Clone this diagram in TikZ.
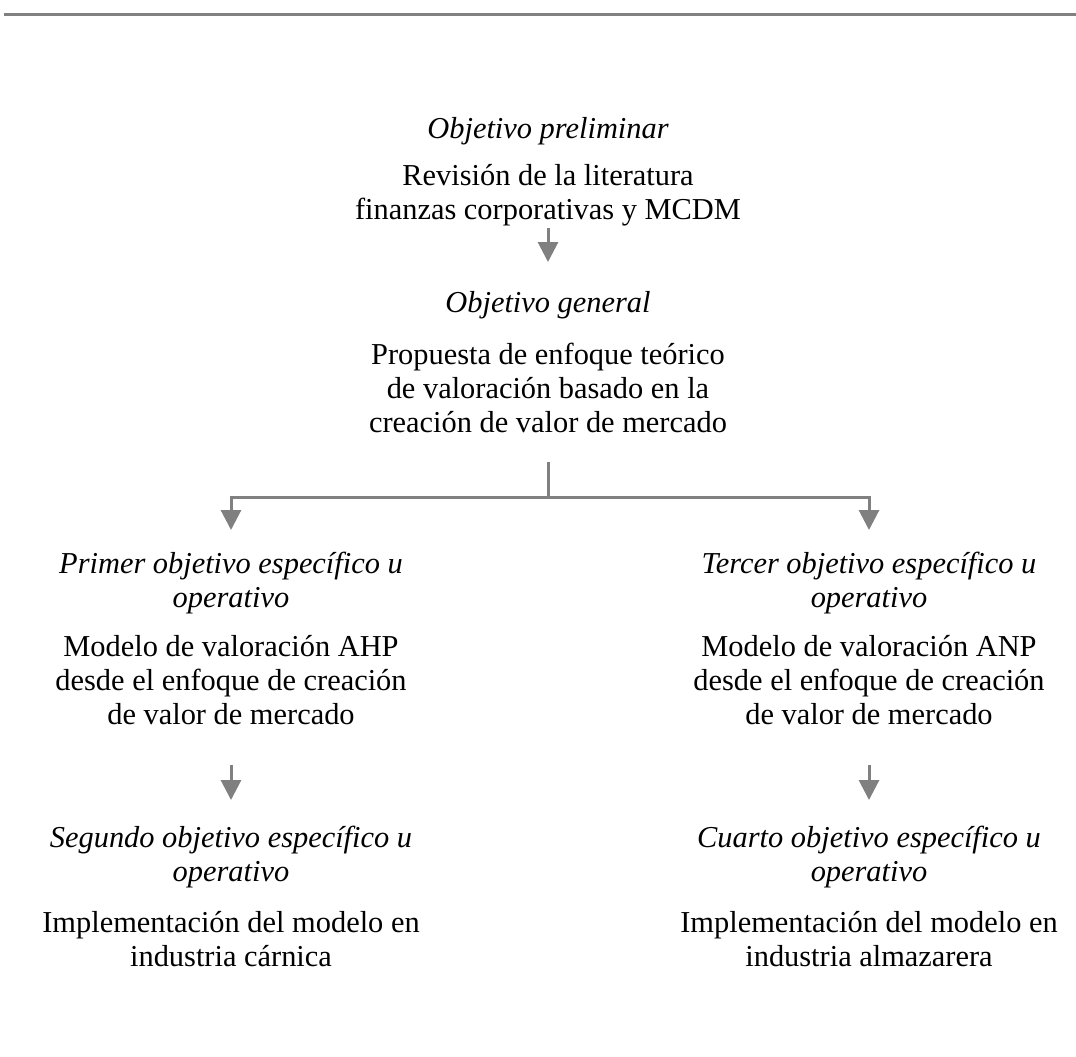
\documentclass[tikz,border=0pt]{standalone}
\usepackage{fontspec}
\setmainfont{Liberation Serif}
\usetikzlibrary{arrows.meta}
\definecolor{ln}{RGB}{128,128,128}
\begin{document}
\begin{tikzpicture}[x=0.5pt,y=-0.5pt,
  txt/.style={font=\fontsize{15.2}{17}\selectfont, align=center, inner sep=0pt},
  ttl/.style={font=\fontsize{15.2}{17}\selectfont\itshape, align=center, inner sep=0pt},
  lin/.style={draw=ln, line width=1.5pt},
  arr/.style={lin, -{Triangle[width=10pt,length=10pt]}}]
\useasboundingbox (0,0) rectangle (1076,1056);
% top rule
\coordinate (rl) at (4,14);
\coordinate (rr) at (1076,14);
\draw[lin] (rl) -- (rr);
% centre column
\node[ttl] (t0) at (548,131) {Objetivo preliminar};
\node[txt] (b0) at (548,195) {Revisión de la literatura\\finanzas corporativas y MCDM};
\node[ttl] (t1) at (548,305) {Objetivo general};
\node[txt] (b1) at (548,388) {Propuesta de enfoque teórico\\de valoración basado en la\\creación de valor de mercado};
% left column
\node[ttl] (t2) at (231,583) {Primer objetivo específico u\\operativo};
\node[txt] (b2) at (231,680) {Modelo de valoración AHP\\desde el enfoque de creación\\de valor de mercado};
\node[ttl] (t3) at (231,857.5) {Segundo objetivo específico u\\operativo};
\node[txt] (b3) at (231,939.5) {Implementación del modelo en\\industria cárnica};
% right column
\node[ttl] (t4) at (869,583) {Tercer objetivo específico u\\operativo};
\node[txt] (b4) at (869,680) {Modelo de valoración ANP\\desde el enfoque de creación\\de valor de mercado};
\node[ttl] (t5) at (869,857.5) {Cuarto objetivo específico u\\operativo};
\node[txt] (b5) at (869,939.5) {Implementación del modelo en\\industria almazarera};
% connectors
\coordinate (a0s) at (548,228);
\coordinate (a0e) at (548,262);
\draw[arr] (a0s) -- (a0e);
\coordinate (bs) at (548,462);
\coordinate (bj) at (548,497);
\coordinate (bl) at (231,530);
\coordinate (brr) at (869,530);
\draw[lin] (bs) -- (bj);
\draw[arr] (bj) -| (bl);
\draw[arr] (bj) -| (brr);
\coordinate (a2s) at (231,765);
\coordinate (a2e) at (231,800);
\draw[arr] (a2s) -- (a2e);
\coordinate (a4s) at (869,765);
\coordinate (a4e) at (869,800);
\draw[arr] (a4s) -- (a4e);
\end{tikzpicture}
\end{document}
